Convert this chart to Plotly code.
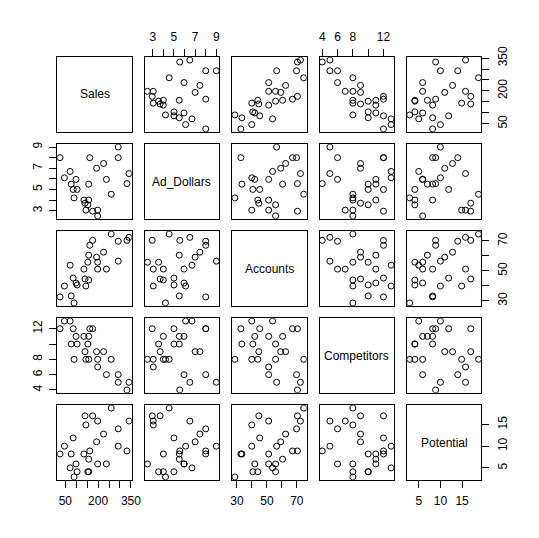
import plotly.graph_objects as go

var_names = ["Sales", "Ad_Dollars", "Accounts", "Competitors", "Potential"]
sales = [26, 46, 72, 77, 86, 90, 99, 104, 135, 140, 144, 153, 157, 157, 162, 175,
         193, 198, 198, 225, 238, 260, 292, 292, 332, 341]
ad_dollars = [8.0, 6.1, 6.7, 5.5, 5.0, 4.2, 5.95, 5.0, 4.0, 3.7, 3.05, 3.55, 5.5, 4.0,
              8.0, 2.95, 7.0, 3.05, 2.5, 7.45, 5.95, 4.55, 9.0, 8.0, 5.55, 6.5]
accounts = [32.6, 39.9, 53.8, 33.3, 45.2, 28.6, 41.9, 40.6, 51.2, 44.6, 39.9, 55.8, 60.5,
            43.9, 67.1, 70.4, 59.2, 51.2, 55.8, 62.5, 51.2, 74.6, 56.5, 69.8, 70.4, 72.4]
competitors = [12, 13, 13, 10, 12, 8, 11, 10, 11, 9, 8, 10, 11, 8, 12, 12, 9, 7, 8, 9,
               6, 8, 5, 6, 4, 5]
potential = [8.2, 10.0, 5.0, 8.2, 11.9, 2.9, 5.9, 4.1, 8.2, 17.0, 14.9, 4.1, 7.0, 4.1,
             8.9, 17.0, 11.0, 15.8, 5.9, 12.8, 5.9, 18.8, 10.0, 14.0, 8.9, 15.8]

tick_vals = {
    "Sales": [50, 100, 150, 200, 250, 300, 350],
    "Ad_Dollars": [3, 4, 5, 6, 7, 8, 9],
    "Accounts": [30, 40, 50, 60, 70],
    "Competitors": [4, 6, 8, 10, 12],
    "Potential": [5, 10, 15],
}
tick_text = {
    "Sales": ["50", "", "", "200", "", "", "350"],
    "Ad_Dollars": ["3", "", "5", "", "7", "", "9"],
    "Accounts": ["30", "", "50", "", "70"],
    "Competitors": ["4", "6", "8", "", "12"],
    "Potential": ["5", "10", "15"],
}

data = {"Sales": sales, "Ad_Dollars": ad_dollars, "Accounts": accounts,
        "Competitors": competitors, "Potential": potential}

W, H = 539, 538
n = len(var_names)
FONT = dict(family="Liberation Sans, Arial, sans-serif", size=12, color="black")


def rng(v):
    lo, hi = min(v), max(v)
    d = hi - lo
    return [lo - 0.04 * d, hi + 0.04 * d]


def col_dom(c):
    left = 57.3 + 87.4 * c
    return [left / W, (left + 74.4) / W]


def row_dom(r):
    top = 57.3 + 87.0 * r
    return [1 - (top + 74.4) / H, 1 - top / H]


fig = go.Figure()
layout = dict(
    width=W, height=H, template="none",
    margin=dict(l=0, r=0, t=0, b=0),
    paper_bgcolor="white", plot_bgcolor="white",
    showlegend=False, font=FONT,
)
annotations = []

for r in range(n):
    for c in range(n):
        idx = r * n + c + 1
        xa = "xaxis" if idx == 1 else f"xaxis{idx}"
        ya = "yaxis" if idx == 1 else f"yaxis{idx}"
        xref = "x" if idx == 1 else f"x{idx}"
        yref = "y" if idx == 1 else f"y{idx}"
        xv = var_names[c]
        yv = var_names[r]
        base = dict(showline=True, linecolor="black", linewidth=1, mirror=True,
                    showgrid=False, zeroline=False, automargin=False,
                    ticks="", showticklabels=False, fixedrange=True,
                    tickfont=FONT)
        xax = dict(base, domain=col_dom(c), range=rng(data[xv]), anchor=yref)
        yax = dict(base, domain=row_dom(r), range=rng(data[yv]), anchor=xref)

        tick_common = dict(ticks="outside", ticklen=7, tickwidth=1, tickcolor="black",
                           showticklabels=True)
        # bottom axis: columns 1,3,5 on last row
        if r == n - 1 and c % 2 == 0:
            xax.update(tick_common, side="bottom", tickvals=tick_vals[xv],
                       ticktext=tick_text[xv], tickangle=0, ticklabelstandoff=3)
        # top axis: columns 2,4 on first row
        if r == 0 and c % 2 == 1:
            xax.update(tick_common, side="top", tickvals=tick_vals[xv],
                       ticktext=tick_text[xv], tickangle=0, ticklabelstandoff=4)
        # left axis: rows 2,4 on first column
        if c == 0 and r % 2 == 1:
            yax.update(tick_common, side="left", tickvals=tick_vals[yv],
                       ticktext=tick_text[yv], tickangle=-90, ticklabelstandoff=3)
        # right axis: rows 1,3,5 on last column
        if c == n - 1 and r % 2 == 0:
            yax.update(tick_common, side="right", tickvals=tick_vals[yv],
                       ticktext=tick_text[yv], tickangle=-90, ticklabelstandoff=3)

        layout[xa] = xax
        layout[ya] = yax

        if r == c:
            d = col_dom(c)
            e = row_dom(r)
            annotations.append(dict(x=(d[0] + d[1]) / 2, y=(e[0] + e[1]) / 2,
                                    xref="paper", yref="paper", text=xv,
                                    xanchor="center", yanchor="middle",
                                    showarrow=False, font=FONT))
            # empty trace so the diagonal panel's frame (and axes) are drawn
            fig.add_trace(go.Scatter(x=[], y=[], mode="markers", xaxis=xref,
                                     yaxis=yref, hoverinfo="skip"))
        else:
            fig.add_trace(go.Scatter(
                x=data[xv], y=data[yv], mode="markers", xaxis=xref, yaxis=yref,
                marker=dict(symbol="circle-open", size=6, color="black",
                            line=dict(width=1, color="black")),
                hoverinfo="skip"))

layout["annotations"] = annotations
fig.update_layout(**layout)
fig.write_html("out.html")
